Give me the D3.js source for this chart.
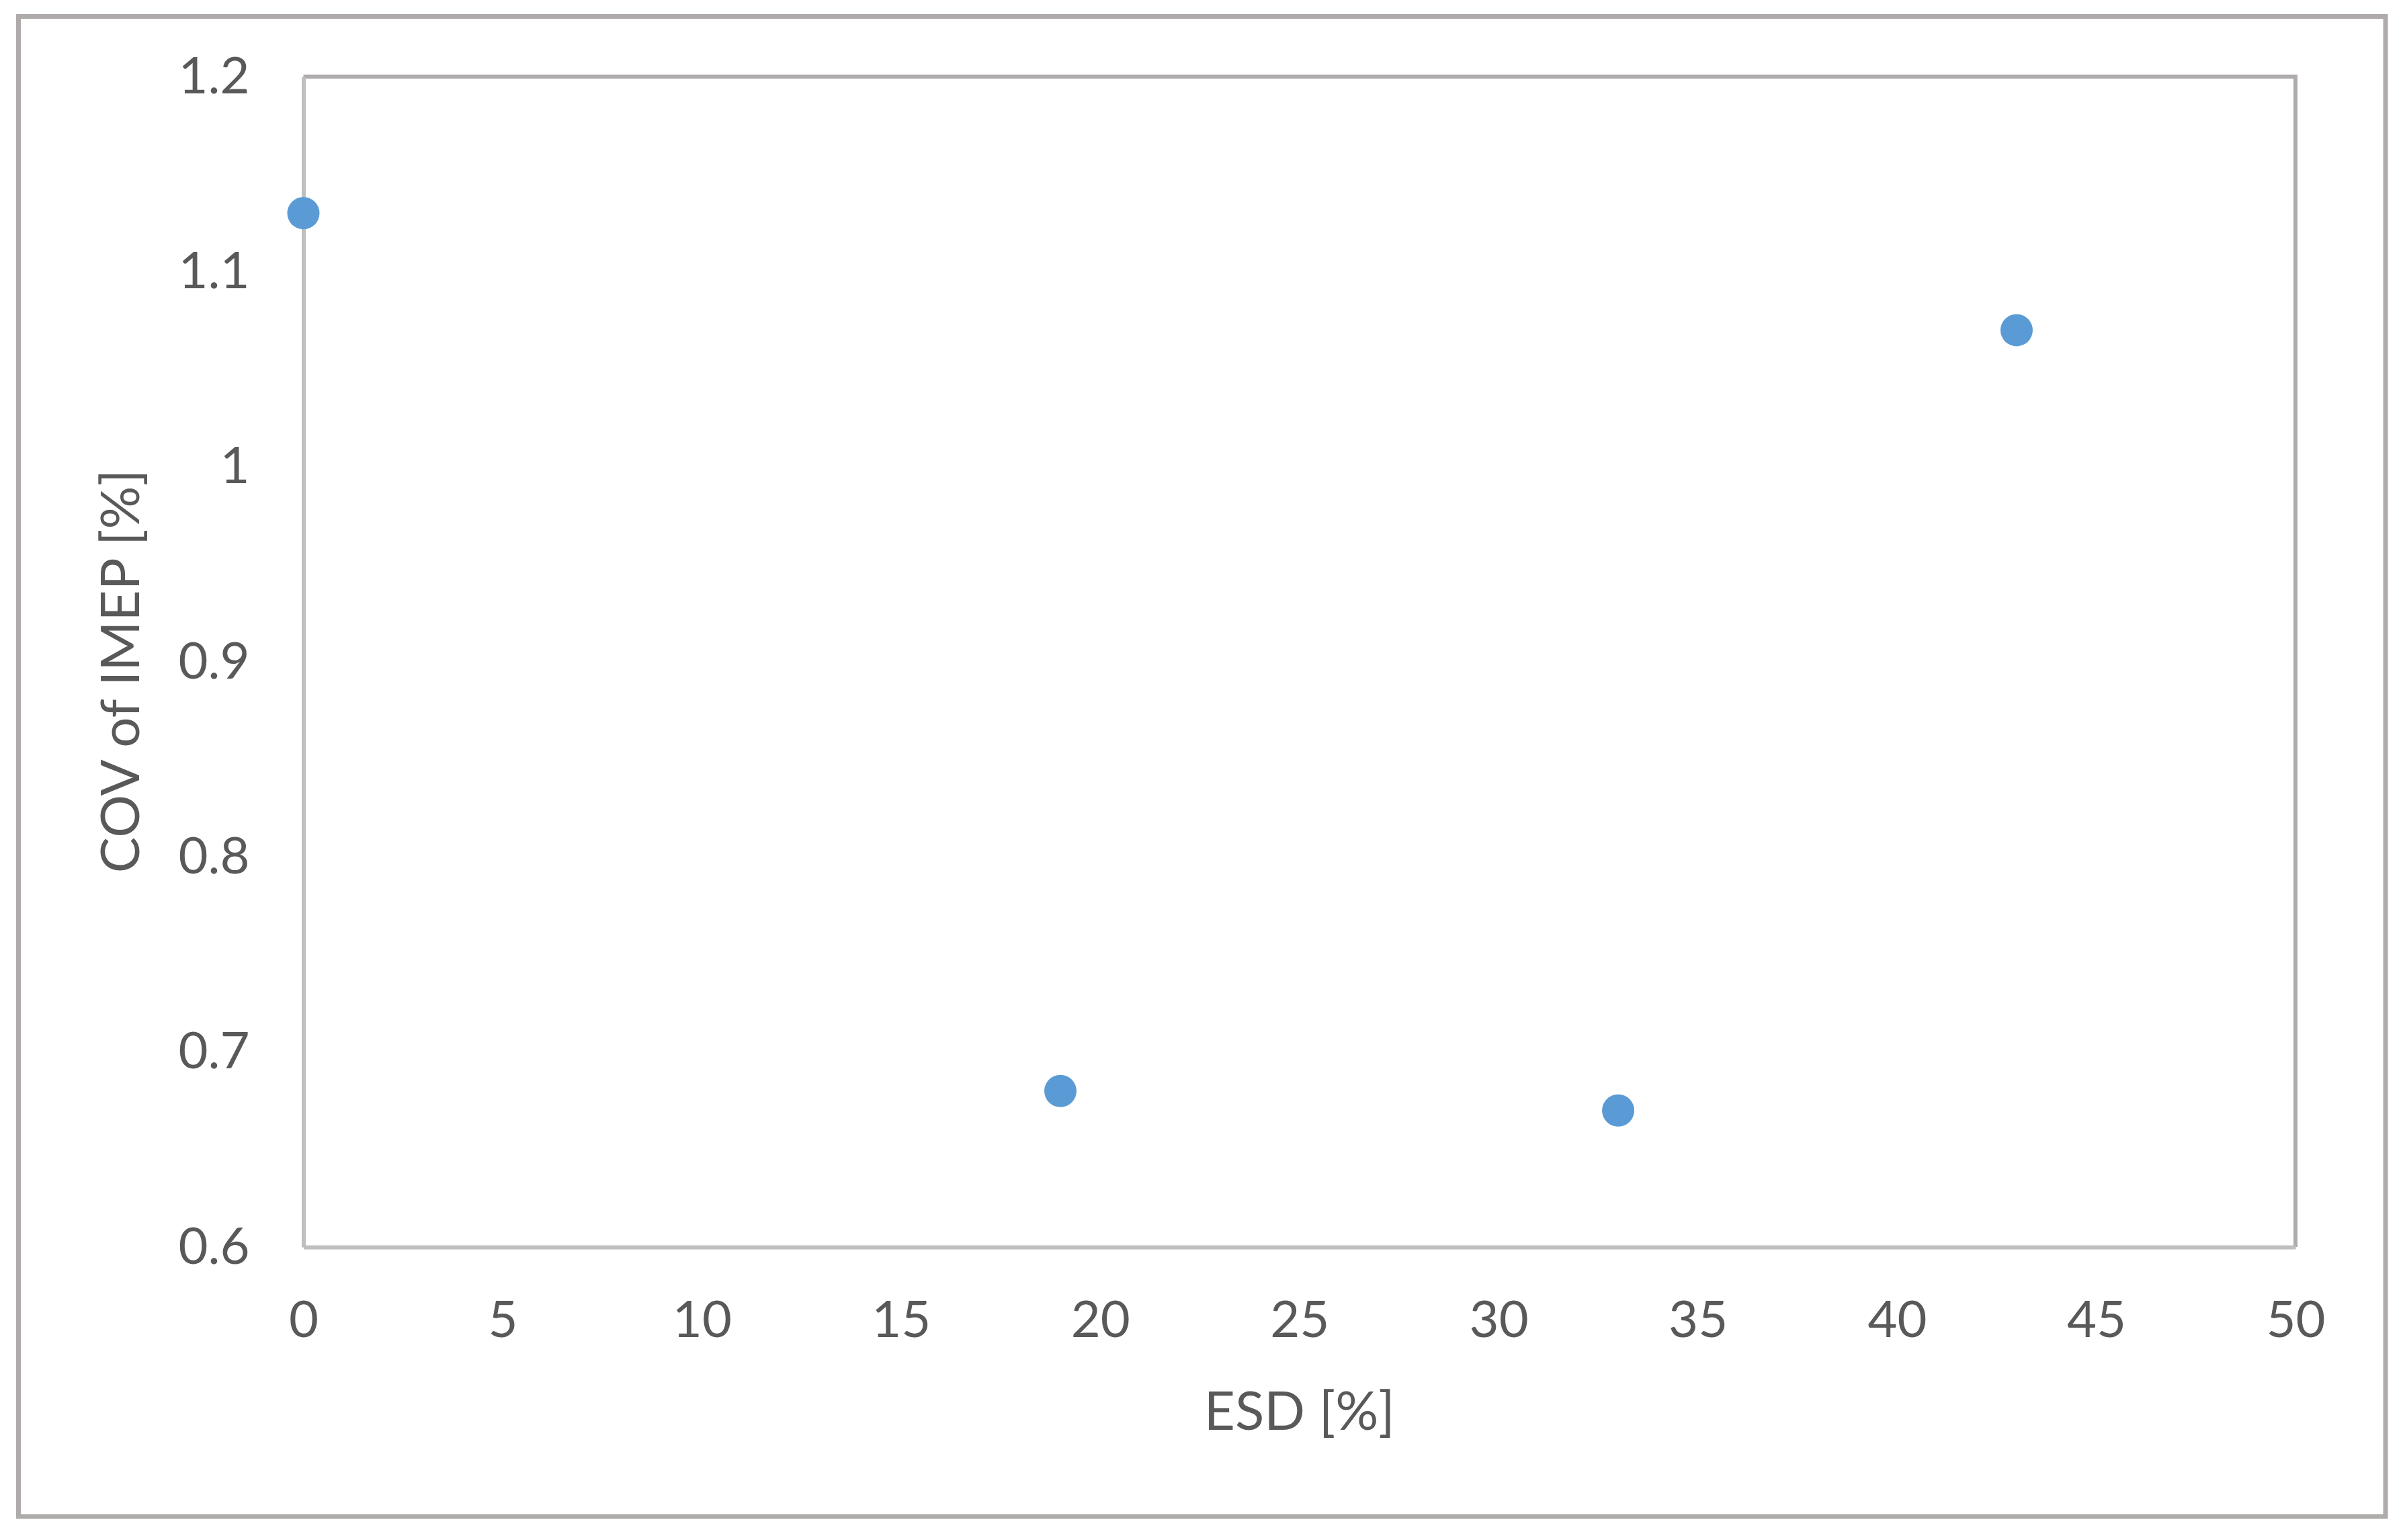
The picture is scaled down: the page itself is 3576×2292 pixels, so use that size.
<!DOCTYPE html>
<html>
<head>
<meta charset="utf-8">
<script src="https://cdn.jsdelivr.net/npm/d3@7"></script>
<style>
html,body{margin:0;padding:0;background:#fff;}
svg{display:block;}
</style>
</head>
<body>
<script>
// Data
const esd = [0, 19, 33, 43];
const cov = [1.13, 0.68, 0.67, 1.07];
const xTicks = [0, 5, 10, 15, 20, 25, 30, 35, 40, 45, 50];
const yTicks = [0.6, 0.7, 0.8, 0.9, 1.0, 1.1, 1.2];
const xTitle = "ESD [%]";
const yTitle = "COV of IMEP [%]";

const W = 3576, H = 2292;
const plot = {left: 451.5, right: 3416, top: 114, bottom: 1856};
const font = "Lato, 'Open Sans', sans-serif";
const textColor = "#595959";

const svg = d3.select("body").append("svg").attr("width", W).attr("height", H);
svg.append("rect").attr("width", W).attr("height", H).attr("fill", "#fff");

// Outer chart border
svg.append("rect")
  .attr("x", 27.5).attr("y", 24.5)
  .attr("width", 3550 - 27.5).attr("height", 2257 - 24.5)
  .attr("fill", "none").attr("stroke", "#AFABAB").attr("stroke-width", 7);

const x = d3.scaleLinear().domain([0, 50]).range([plot.left, plot.right]);
const y = d3.scaleLinear().domain([0.6, 1.2]).range([plot.bottom, plot.top]);

// Plot area border (top/right)
svg.append("path")
  .attr("d", `M${plot.left},${plot.top}H${plot.right}V${plot.bottom}`)
  .attr("fill", "none").attr("stroke", "#AFABAB").attr("stroke-width", 6);

// Axes
const xAxis = d3.axisBottom(x).tickValues(xTicks).tickSize(0).tickPadding(80).tickFormat(d3.format("d"));
const yAxis = d3.axisLeft(y).tickValues(yTicks).tickSize(0).tickPadding(80)
  .tickFormat(d => d === 1 ? "1" : d3.format(".1f")(d));

const gx = svg.append("g").attr("transform", `translate(0,${plot.bottom})`).call(xAxis);
const gy = svg.append("g").attr("transform", `translate(${plot.left},0)`).call(yAxis);

[gx, gy].forEach(g => {
  g.select(".domain").attr("stroke", "#BFBFBF").attr("stroke-width", 6);
  g.selectAll("text").attr("fill", textColor).attr("font-family", font).attr("font-size", 76);
});

// Titles
svg.append("text")
  .attr("x", (plot.left + plot.right) / 2).attr("y", 2128)
  .attr("text-anchor", "middle")
  .attr("font-family", font).attr("font-size", 80).attr("fill", textColor)
  .text(xTitle);

svg.append("text")
  .attr("transform", `translate(207,${(plot.top + plot.bottom) / 2 + 14}) rotate(-90)`)
  .attr("text-anchor", "middle")
  .attr("font-family", font).attr("font-size", 80).attr("fill", textColor)
  .text(yTitle);

// Points
svg.append("g").selectAll("circle")
  .data(esd.map((e, i) => ({e, c: cov[i]})))
  .join("circle")
  .attr("cx", d => x(d.e)).attr("cy", d => y(d.c))
  .attr("r", 24).attr("fill", "#5B9BD5");
</script>
</body>
</html>
